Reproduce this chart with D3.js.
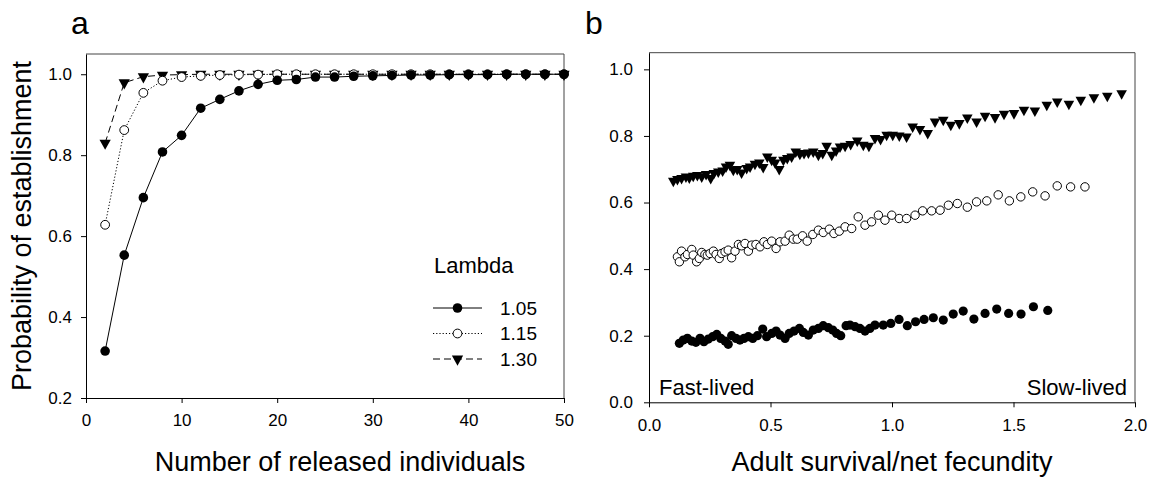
<!DOCTYPE html>
<html>
<head>
<meta charset="UTF-8">
<title>Establishment probability</title>
<script src="https://d3js.org/d3.v7.min.js"></script>
<style>
  body { margin: 0; background: #fff; }
  text { font-family: Arial, "Liberation Sans", sans-serif; fill: #000; }
  .axis path, .axis line { stroke: #000; stroke-width: 1; }
  .axis text { font-size: 17px; }
</style>
</head>
<body>
<svg id="chart" width="1151" height="481"></svg>
<script>
// ---- panel a data ----
var released = [2, 4, 6, 8, 10, 12, 14, 16, 18, 20, 22, 24, 26, 28, 30, 32, 34, 36, 38, 40, 42, 44, 46, 48, 50];
var lambda105 = [0.316, 0.553, 0.695, 0.808, 0.849, 0.916, 0.938, 0.959, 0.975, 0.985, 0.987, 0.993, 0.993, 0.995, 0.996, 0.997, 0.998, 0.998, 0.999, 0.999, 0.999, 1.0, 1.0, 1.0, 1.0];
var lambda115 = [0.628, 0.862, 0.954, 0.984, 0.993, 0.996, 0.998, 0.999, 0.999, 1.0, 1.0, 1.0, 1.0, 1.0, 1.0, 1.0, 1.0, 1.0, 1.0, 1.0, 1.0, 1.0, 1.0, 1.0, 1.0];
var lambda130 = [0.830, 0.979, 0.994, 0.998, 0.999, 1.0, 1.0, 1.0, 1.0, 1.0, 1.0, 1.0, 1.0, 1.0, 1.0, 1.0, 1.0, 1.0, 1.0, 1.0, 1.0, 1.0, 1.0, 1.0, 1.0];
var legendLabels = ["1.05", "1.15", "1.30"];
var xTicksA = [0, 10, 20, 30, 40, 50];
var yTicksA = [0.2, 0.4, 0.6, 0.8, 1.0];

// ---- panel b data ----
var triX = [0.100, 0.117, 0.134, 0.152, 0.166, 0.182, 0.199, 0.217, 0.235, 0.254, 0.267, 0.285, 0.303, 0.317, 0.333, 0.347, 0.363, 0.381, 0.402, 0.416, 0.436, 0.454, 0.470, 0.487, 0.505, 0.519, 0.536, 0.553, 0.569, 0.587, 0.604, 0.621, 0.638, 0.656, 0.676, 0.697, 0.715, 0.731, 0.752, 0.770, 0.786, 0.807, 0.830, 0.857, 0.882, 0.905, 0.930, 0.953, 0.978, 1.003, 1.030, 1.060, 1.085, 1.115, 1.147, 1.177, 1.211, 1.242, 1.277, 1.310, 1.348, 1.383, 1.424, 1.461, 1.502, 1.543, 1.588, 1.637, 1.680, 1.728, 1.777, 1.831, 1.886, 1.945];
var triY = [0.665, 0.670, 0.673, 0.678, 0.675, 0.680, 0.682, 0.678, 0.685, 0.673, 0.688, 0.693, 0.696, 0.708, 0.713, 0.698, 0.700, 0.690, 0.703, 0.708, 0.716, 0.720, 0.706, 0.738, 0.728, 0.720, 0.700, 0.728, 0.733, 0.738, 0.753, 0.746, 0.748, 0.750, 0.753, 0.743, 0.748, 0.770, 0.743, 0.756, 0.768, 0.770, 0.775, 0.786, 0.773, 0.770, 0.793, 0.790, 0.803, 0.803, 0.801, 0.798, 0.828, 0.820, 0.808, 0.843, 0.848, 0.833, 0.838, 0.855, 0.843, 0.860, 0.856, 0.866, 0.868, 0.878, 0.876, 0.893, 0.903, 0.896, 0.908, 0.916, 0.920, 0.928];
var openX = [0.117, 0.125, 0.134, 0.148, 0.158, 0.176, 0.182, 0.196, 0.207, 0.217, 0.230, 0.240, 0.251, 0.265, 0.276, 0.289, 0.299, 0.313, 0.326, 0.340, 0.354, 0.368, 0.381, 0.395, 0.409, 0.423, 0.440, 0.457, 0.473, 0.487, 0.505, 0.523, 0.539, 0.560, 0.577, 0.594, 0.610, 0.632, 0.651, 0.674, 0.697, 0.717, 0.742, 0.761, 0.783, 0.807, 0.834, 0.861, 0.889, 0.916, 0.944, 0.971, 0.999, 1.030, 1.060, 1.095, 1.126, 1.163, 1.198, 1.232, 1.269, 1.310, 1.348, 1.390, 1.437, 1.483, 1.530, 1.579, 1.630, 1.680, 1.735, 1.794];
var openY = [0.437, 0.422, 0.454, 0.437, 0.444, 0.459, 0.442, 0.422, 0.432, 0.450, 0.444, 0.442, 0.447, 0.454, 0.444, 0.432, 0.447, 0.452, 0.457, 0.434, 0.454, 0.474, 0.470, 0.477, 0.454, 0.472, 0.474, 0.467, 0.482, 0.474, 0.484, 0.462, 0.482, 0.484, 0.502, 0.490, 0.490, 0.500, 0.484, 0.504, 0.517, 0.510, 0.520, 0.507, 0.514, 0.527, 0.522, 0.557, 0.532, 0.542, 0.562, 0.547, 0.562, 0.552, 0.552, 0.562, 0.575, 0.575, 0.577, 0.592, 0.597, 0.586, 0.602, 0.605, 0.623, 0.605, 0.617, 0.632, 0.620, 0.650, 0.647, 0.647];
var fillX = [0.125, 0.141, 0.158, 0.176, 0.193, 0.210, 0.226, 0.244, 0.262, 0.279, 0.295, 0.313, 0.326, 0.340, 0.358, 0.374, 0.391, 0.409, 0.427, 0.446, 0.468, 0.484, 0.505, 0.523, 0.539, 0.560, 0.577, 0.597, 0.619, 0.635, 0.656, 0.676, 0.697, 0.717, 0.738, 0.756, 0.772, 0.789, 0.811, 0.827, 0.848, 0.868, 0.889, 0.909, 0.930, 0.964, 0.995, 1.029, 1.063, 1.097, 1.132, 1.170, 1.211, 1.252, 1.293, 1.337, 1.383, 1.431, 1.480, 1.531, 1.582, 1.641];
var fillY = [0.177, 0.187, 0.192, 0.184, 0.180, 0.192, 0.182, 0.190, 0.197, 0.204, 0.192, 0.184, 0.174, 0.200, 0.192, 0.187, 0.192, 0.197, 0.192, 0.200, 0.220, 0.197, 0.207, 0.214, 0.202, 0.192, 0.207, 0.214, 0.222, 0.210, 0.202, 0.217, 0.222, 0.230, 0.224, 0.217, 0.207, 0.200, 0.230, 0.232, 0.227, 0.222, 0.214, 0.222, 0.232, 0.232, 0.237, 0.249, 0.230, 0.242, 0.249, 0.254, 0.247, 0.265, 0.274, 0.250, 0.267, 0.280, 0.267, 0.265, 0.287, 0.276];
var xTicksB = [0, 0.5, 1.0, 1.5, 2.0];
var yTicksB = [0, 0.2, 0.4, 0.6, 0.8, 1.0];

var svg = d3.select("#chart");
var fmt = d3.format(".1f");

// triangle pointing down, centred on its centroid
function triDown(w) {
  var h = w * 0.9;
  return "M" + (-w / 2) + "," + (-h / 3) + "L" + (w / 2) + "," + (-h / 3) + "L0," + (2 * h / 3) + "Z";
}

// ================= panel a =================
var ax = d3.scaleLinear().domain([0, 50]).range([86, 564]);
var ay = d3.scaleLinear().domain([0.2, 1.05]).range([398, 54]);

var ga = svg.append("g");
// frame (top and right)
ga.append("path")
  .attr("d", "M" + ax(0) + "," + ay(1.05) + "H" + ax(50) + "V" + ay(0.2))
  .attr("fill", "none").attr("stroke", "#444");

ga.append("g").attr("class", "axis")
  .attr("transform", "translate(0," + ay(0.2) + ")")
  .call(d3.axisBottom(ax).tickValues(xTicksA).tickSize(5).tickPadding(11).tickSizeOuter(0));
ga.append("g").attr("class", "axis")
  .attr("transform", "translate(" + ax(0) + ",0)")
  .call(d3.axisLeft(ay).tickValues(yTicksA).tickFormat(fmt).tickSize(5).tickPadding(9).tickSizeOuter(0));

var seriesA = [
  { name: legendLabels[2], vals: lambda130, dash: "7,4", marker: "tri" },
  { name: legendLabels[1], vals: lambda115, dash: "1.2,2", marker: "open" },
  { name: legendLabels[0], vals: lambda105, dash: null, marker: "fill" }
];

var lineA = d3.line().x(function(d) { return ax(d[0]); }).y(function(d) { return ay(d[1]); });

function drawMarker(sel, type, x, y, r) {
  if (type === "tri") {
    sel.append("path").attr("d", triDown(r * 2.35))
      .attr("transform", "translate(" + x + "," + y + ")").attr("fill", "#000");
  } else if (type === "open") {
    sel.append("circle").attr("cx", x).attr("cy", y).attr("r", r - 0.4)
      .attr("fill", "#fff").attr("stroke", "#000").attr("stroke-width", 1);
  } else {
    sel.append("circle").attr("cx", x).attr("cy", y).attr("r", r).attr("fill", "#000");
  }
}

seriesA.forEach(function(s) {
  var pts = released.map(function(x, i) { return [x, s.vals[i]]; });
  ga.append("path").datum(pts).attr("d", lineA)
    .attr("fill", "none").attr("stroke", "#000").attr("stroke-width", 1)
    .attr("stroke-dasharray", s.dash);
  pts.forEach(function(p) { drawMarker(ga, s.marker, ax(p[0]), ay(p[1]), 4.8); });
});

// legend
var lg = ga.append("g");
lg.append("text").attr("x", 434).attr("y", 273).style("font-size", "22px").text("Lambda");
[["fill", null, 0], ["open", "1.2,2", 1], ["tri", "7,4", 2]].forEach(function(e, i) {
  var yy = 308 + i * 25.5;
  lg.append("line").attr("x1", 433).attr("x2", 482).attr("y1", yy).attr("y2", yy)
    .attr("stroke", "#000").attr("stroke-dasharray", e[1]);
  drawMarker(lg, e[0], 457.5, yy, 4.8);
  lg.append("text").attr("x", 500).attr("y", yy).attr("dy", "0.35em")
    .style("font-size", "19px").text(legendLabels[e[2]]);
});

ga.append("text").attr("x", 71).attr("y", 34).style("font-size", "32px").text("a");
ga.append("text").attr("x", 340).attr("y", 471).attr("text-anchor", "middle")
  .style("font-size", "27px").text("Number of released individuals");
ga.append("text").attr("transform", "translate(31,226) rotate(-90)").attr("text-anchor", "middle")
  .style("font-size", "27px").text("Probability of establishment");

// ================= panel b =================
var bx = d3.scaleLinear().domain([0, 2]).range([649, 1135]);
var by = d3.scaleLinear().domain([0, 1.05]).range([402.3, 52.7]);

var gb = svg.append("g");
gb.append("path")
  .attr("d", "M" + bx(0) + "," + by(1.05) + "H" + bx(2) + "V" + by(0))
  .attr("fill", "none").attr("stroke", "#444");

gb.append("g").attr("class", "axis")
  .attr("transform", "translate(0," + by(0) + ")")
  .call(d3.axisBottom(bx).tickValues(xTicksB).tickFormat(fmt).tickSize(5).tickPadding(12).tickSizeOuter(0));
gb.append("g").attr("class", "axis")
  .attr("transform", "translate(" + bx(0) + ",0)")
  .call(d3.axisLeft(by).tickValues(yTicksB).tickFormat(fmt).tickSize(5).tickPadding(11).tickSizeOuter(0));

fillX.forEach(function(x, i) { drawMarker(gb, "fill", bx(x), by(fillY[i]), 4.6); });
openX.forEach(function(x, i) { drawMarker(gb, "open", bx(x), by(openY[i]), 4.6); });
triX.forEach(function(x, i) { drawMarker(gb, "tri", bx(x), by(triY[i]), 4.5); });

gb.append("text").attr("x", 659).attr("y", 395).style("font-size", "22px").text("Fast-lived");
gb.append("text").attr("x", 1127).attr("y", 395).attr("text-anchor", "end")
  .style("font-size", "22px").text("Slow-lived");

gb.append("text").attr("x", 585).attr("y", 34).style("font-size", "32px").text("b");
gb.append("text").attr("x", 892).attr("y", 471).attr("text-anchor", "middle")
  .style("font-size", "27px").text("Adult survival/net fecundity");
</script>
</body>
</html>
